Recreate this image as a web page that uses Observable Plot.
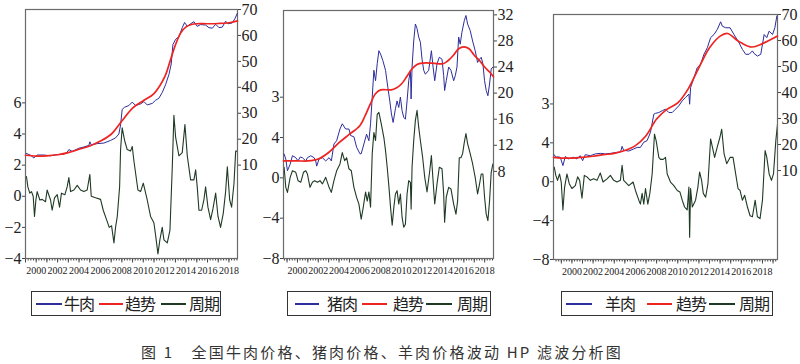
<!DOCTYPE html>
<html><head><meta charset="utf-8">
<script src="https://cdn.jsdelivr.net/npm/d3@7"></script>
<script src="https://cdn.jsdelivr.net/npm/@observablehq/plot@0.6"></script>
<style>
body{margin:0;background:#fff;}
#wrap{position:relative;width:800px;height:364px;overflow:hidden;background:#fff;}
#wrap svg text{font-family:"Liberation Serif",serif !important;}
.layer{position:absolute;top:0;}
.lg{position:absolute;top:291px;height:25px;border:1.5px solid #333;box-sizing:border-box;}
.ln{position:absolute;height:2px;top:303px;}
.lt{position:absolute;top:292px;font-family:"Noto Sans CJK SC",sans-serif;font-size:16px;line-height:22px;color:#222;letter-spacing:-1px;}
#cap{position:absolute;left:141px;top:341px;font-family:"Noto Sans CJK SC",sans-serif;font-size:15px;line-height:22px;letter-spacing:2.2px;color:#333;white-space:pre;}
</style></head>
<body><div id="wrap"></div>
<script>
// ---------- data ----------
const yearTicks = [2000,2002,2004,2006,2008,2010,2012,2014,2016,2018];

// Panel 1: beef (牛肉)
const beefPrice = [[1999.09,14.5],[1999.47,13.8],[1999.78,12.8],[2000.09,13.9],[2000.71,13.9],[2001.34,13.6],[2001.8,14.0],[2002.58,14.2],[2002.89,15.0],[2003.05,16.0],[2003.36,15.3],[2003.98,16.5],[2004.45,17.0],[2004.92,17.6],[2005.01,19.0],[2005.14,17.8],[2005.7,18.3],[2006.32,18.5],[2006.94,19.5],[2007.41,20.5],[2007.72,22],[2007.88,25.5],[2008.03,31.5],[2008.25,32.3],[2008.66,33.0],[2008.97,34.3],[2009.28,33.0],[2009.75,33.6],[2010.06,34.5],[2010.37,33.2],[2010.84,33.8],[2011.15,35],[2011.46,35.8],[2011.77,38],[2012.08,41],[2012.4,45],[2012.61,49],[2012.77,56.5],[2013.02,58.5],[2013.33,59.5],[2013.64,63],[2013.86,65],[2014.11,63.5],[2014.42,64.5],[2014.73,65.3],[2015.04,63.5],[2015.36,64.2],[2015.82,64.0],[2016.13,63.0],[2016.45,62.8],[2016.76,64.3],[2017.07,63.0],[2017.38,63.2],[2017.69,65.5],[2017.91,64.5],[2018.31,64.8],[2018.56,66.5],[2018.78,68.5]];
const beefTrend = [[1999.0,13.8],[2000,13.5],[2001,13.6],[2002,14.0],[2003,14.8],[2004,16.1],[2005,17.4],[2006,19.3],[2007,21.9],[2008,27.0],[2009,32.0],[2010,34.8],[2011,37.6],[2012,44.0],[2012.5,50.0],[2013,56.3],[2013.5,61.0],[2014,63.3],[2014.5,64.2],[2015,64.5],[2016,64.5],[2017,64.6],[2018,64.9],[2018.8,65.6]];
const beefCycle = [[1999.09,1.27],[1999.22,0.6],[1999.4,0.2],[1999.56,0.3],[1999.72,0.0],[1999.84,-1.3],[1999.97,-0.24],[2000.09,0.3],[2000.34,-0.24],[2000.56,-0.2],[2000.87,-0.35],[2001.02,0.4],[2001.34,-0.24],[2001.49,-0.9],[2001.71,-0.1],[2001.96,0.1],[2002.18,-0.7],[2002.36,0.2],[2002.68,0.1],[2002.89,0.6],[2003.05,1.2],[2003.21,0.3],[2003.52,0.4],[2003.83,0.7],[2004.14,0.4],[2004.45,0.3],[2004.76,0.4],[2005.01,1.4],[2005.14,0.0],[2005.54,-0.1],[2006.01,-0.2],[2006.26,-0.9],[2006.57,-1.5],[2006.82,-2.0],[2007.04,-1.9],[2007.26,-3.0],[2007.41,-2.0],[2007.57,-1.3],[2007.79,0.6],[2007.88,3.0],[2008.03,4.4],[2008.25,3.6],[2008.5,3.0],[2008.81,2.9],[2008.97,3.2],[2009.12,2.3],[2009.5,0.4],[2009.75,0.3],[2010.0,0.84],[2010.37,-0.24],[2010.68,-1.3],[2010.99,-1.7],[2011.15,-2.5],[2011.37,-3.7],[2011.55,-2.8],[2011.77,-2.0],[2011.93,-2.8],[2012.24,-3.0],[2012.49,-2.2],[2012.71,1.9],[2012.86,5.2],[2013.02,3.8],[2013.33,2.6],[2013.64,2.8],[2013.89,4.6],[2014.11,2.6],[2014.42,1.05],[2014.73,1.05],[2014.89,1.7],[2015.04,0.6],[2015.2,-0.9],[2015.45,-0.9],[2015.67,-0.2],[2015.82,0.6],[2016.04,-0.7],[2016.29,-1.5],[2016.51,-0.8],[2016.76,0.2],[2016.98,-1.3],[2017.22,-2.0],[2017.47,-1.1],[2017.69,0.3],[2017.85,1.9],[2018.07,-0.24],[2018.25,-0.7],[2018.47,0.8],[2018.63,2.9],[2018.78,2.9]];

// Panel 2: pork (猪肉)
const porkPrice = [[1998.72,10.66],[1998.88,9.9],[1999.04,8.1],[1999.3,9.1],[1999.52,10.4],[1999.84,10.1],[2000.06,9.6],[2000.26,10.2],[2000.48,10.1],[2000.8,9.6],[2000.96,10.1],[2001.28,10.4],[2001.6,10.1],[2001.76,9.6],[2001.85,8.8],[2002.08,9.9],[2002.4,10.1],[2002.72,9.6],[2003.04,10.1],[2003.26,9.6],[2003.51,12.2],[2003.77,12.7],[2004.09,14.5],[2004.31,15.3],[2004.63,14.5],[2004.95,14.5],[2005.11,13.5],[2005.43,13.3],[2005.69,11.7],[2006.01,10.7],[2006.13,10.7],[2006.39,12.2],[2006.65,13.7],[2006.87,12.7],[2007.03,15.3],[2007.19,19.4],[2007.35,23.5],[2007.51,21.9],[2007.67,24.5],[2007.83,26.5],[2007.99,26],[2008.21,25],[2008.47,23.5],[2008.69,20.9],[2008.88,18.8],[2009.04,16.8],[2009.2,15.5],[2009.42,17.6],[2009.58,18.8],[2009.74,17.8],[2009.9,19.4],[2010.06,17.3],[2010.22,16.3],[2010.38,16.0],[2010.54,18.8],[2010.7,21.9],[2010.86,23.5],[2010.93,19.1],[2011.02,24],[2011.18,28],[2011.34,30.6],[2011.5,29.9],[2011.66,28.6],[2011.82,27.8],[2011.98,25.2],[2012.14,23.5],[2012.3,22.9],[2012.62,23.5],[2012.88,26.5],[2013.04,24],[2013.2,21.9],[2013.42,24.5],[2013.64,25.5],[2013.9,25.2],[2014.06,22.7],[2014.15,20.4],[2014.31,21.9],[2014.54,24],[2014.76,23.5],[2015.02,21.9],[2015.18,22.7],[2015.34,24],[2015.5,28.6],[2015.65,27.5],[2015.81,29.3],[2016.04,31.1],[2016.2,31.9],[2016.36,30.6],[2016.61,29.6],[2016.84,28],[2017.09,26.5],[2017.32,24.7],[2017.51,25.2],[2017.67,25.5],[2017.83,24.5],[2017.99,21.9],[2018.15,20.4],[2018.31,19.6],[2018.47,21.4],[2018.63,23.7],[2018.79,24]];
const porkTrend = [[1998.66,9.6],[2000,9.6],[2001,9.6],[2002,9.9],[2003,10.9],[2004,12.4],[2005,13.7],[2006,15.0],[2006.5,16.5],[2007,18.3],[2007.5,19.9],[2008,20.5],[2009,20.5],[2009.5,20.8],[2010,21.4],[2010.5,22.5],[2011,23.7],[2011.5,24.4],[2012,24.6],[2013,24.6],[2014,24.5],[2014.5,25.0],[2015,25.8],[2015.5,26.8],[2016,27.1],[2016.5,26.8],[2017,25.8],[2017.5,25.0],[2018,24.0],[2018.5,23.2],[2018.85,22.5]];
const porkCycle = [[1998.72,1.05],[1998.88,-0.94],[1999.04,-1.44],[1999.3,0.05],[1999.52,0.7],[1999.84,0.55],[2000.06,-0.28],[2000.32,-0.44],[2000.58,0.55],[2000.8,0.7],[2000.96,0.38],[2001.21,-0.94],[2001.44,-0.44],[2001.66,-0.28],[2001.92,-0.44],[2002.17,-0.28],[2002.4,-0.6],[2002.72,0.05],[2003.04,-0.94],[2003.26,-1.44],[2003.51,-0.28],[2003.77,0.7],[2004.09,1.38],[2004.31,2.5],[2004.54,1.7],[2004.73,2.0],[2004.95,0.9],[2005.18,0.7],[2005.43,-0.94],[2005.69,-1.93],[2005.91,-2.6],[2006.13,-4.1],[2006.33,-2.9],[2006.55,-1.4],[2006.71,-2.3],[2006.87,-1.4],[2007.03,-2.9],[2007.19,2.4],[2007.35,4.5],[2007.51,3.7],[2007.67,6.3],[2007.83,6.5],[2008.05,5.4],[2008.31,4.0],[2008.47,2.7],[2008.63,1.05],[2008.79,-0.8],[2008.95,-2.9],[2009.11,-4.7],[2009.27,-2.9],[2009.42,-1.6],[2009.58,-1.27],[2009.74,-2.6],[2009.9,-1.6],[2010.06,-3.9],[2010.22,-4.9],[2010.38,-4.6],[2010.54,-1.6],[2010.7,-0.28],[2010.86,-0.44],[2010.93,-3.1],[2011.02,1.05],[2011.18,3.7],[2011.34,5.7],[2011.5,6.7],[2011.66,5.0],[2011.82,3.7],[2012.04,2.0],[2012.24,0.05],[2012.46,-1.4],[2012.72,0.7],[2012.88,2.2],[2013.04,-0.28],[2013.2,-2.6],[2013.42,-0.6],[2013.64,1.05],[2013.9,0.9],[2014.06,-1.6],[2014.15,-4.4],[2014.31,-1.9],[2014.54,-0.94],[2014.76,-1.1],[2015.02,-2.6],[2015.24,-3.6],[2015.4,-2.3],[2015.56,2.0],[2015.72,2.0],[2015.88,2.4],[2016.04,3.5],[2016.2,4.4],[2016.36,3.4],[2016.61,2.4],[2016.84,1.4],[2017.09,0.05],[2017.32,-1.6],[2017.51,-0.6],[2017.67,0.38],[2017.83,0.38],[2017.99,-1.9],[2018.15,-3.6],[2018.31,-4.25],[2018.47,-2.3],[2018.63,0.55],[2018.79,1.38]];

// Panel 3: mutton (羊肉)
const muttonPrice = [[1998.33,16.1],[1998.48,15.1],[1998.64,15.3],[1998.9,15.1],[1999.15,11.9],[1999.37,15.4],[1999.68,14.5],[2000.16,15.1],[2000.47,14.5],[2000.79,15.7],[2001.01,13.8],[2001.26,16.1],[2001.74,15.7],[2002.21,16.4],[2002.68,16.6],[2003.16,16.4],[2003.63,16.6],[2004.26,17.0],[2004.6,17.2],[2004.74,19.3],[2004.89,17.8],[2005.37,17.5],[2005.84,18.3],[2006.16,18.9],[2006.47,18.9],[2006.79,20.9],[2007.1,21.5],[2007.42,24.7],[2007.74,31.7],[2007.89,32],[2008.21,32.3],[2008.53,33.0],[2008.84,33.6],[2009.16,32.3],[2009.47,32.3],[2009.79,33.6],[2010.1,34.9],[2010.42,36.8],[2010.74,38.1],[2011.05,39.4],[2011.12,35.5],[2011.21,41.9],[2011.53,45.7],[2011.84,49.6],[2012.16,50.9],[2012.47,54.7],[2012.79,57.2],[2013.1,61.1],[2013.42,62.3],[2013.74,64.3],[2014.05,67.2],[2014.21,65.5],[2014.53,64.9],[2014.94,64.9],[2015.31,62.3],[2015.79,59.1],[2016.1,56.6],[2016.42,54.7],[2016.74,54.7],[2017.05,56],[2017.21,55],[2017.52,54],[2017.84,54.7],[2018.16,62.3],[2018.41,61.1],[2018.63,63.6],[2018.95,62.3],[2019.17,64.9],[2019.36,69.4]];
const muttonTrend = [[1998.26,15.1],[1999,14.8],[2000,14.8],[2001,15.1],[2002,15.5],[2003,16.1],[2004,16.6],[2005,17.7],[2006,19.6],[2007,23.4],[2008,29.8],[2009,33.6],[2010,36.0],[2011,41.5],[2012,49.6],[2013,57.2],[2014,61.7],[2014.7,62.7],[2015.5,60.4],[2016,59.1],[2017,57.5],[2018,58.8],[2019.42,61.7]];
const muttonCycle = [[1998.33,1.5],[1998.48,0.65],[1998.64,0.14],[1998.83,0.8],[1998.99,-0.03],[1999.15,-2.9],[1999.31,-0.55],[1999.53,0.8],[1999.75,-0.2],[2000.0,-0.7],[2000.32,-0.4],[2000.54,0.5],[2000.73,0.14],[2000.95,-1.7],[2001.17,0.65],[2001.42,0.5],[2001.74,0.14],[2002.05,0.3],[2002.37,0.14],[2002.68,0.9],[2002.94,-0.03],[2003.32,0.3],[2003.63,0.65],[2003.95,0.14],[2004.26,-0.03],[2004.58,0.14],[2004.74,1.7],[2004.89,0.14],[2005.37,-0.4],[2005.78,-0.03],[2006.0,-0.9],[2006.32,-1.9],[2006.47,-2.3],[2006.63,-1.2],[2006.79,-2.3],[2006.95,-0.7],[2007.17,-2.3],[2007.36,-1.2],[2007.58,0.8],[2007.8,4.9],[2007.96,4.2],[2008.21,2.5],[2008.37,2.3],[2008.62,2.3],[2008.84,2.5],[2009.0,0.8],[2009.31,-0.03],[2009.63,-0.4],[2009.95,-0.9],[2010.2,-1.05],[2010.42,-1.9],[2010.64,-2.6],[2010.89,-2.9],[2011.05,-0.55],[2011.12,-5.7],[2011.21,-0.7],[2011.37,-2.6],[2011.68,-1.9],[2011.9,-0.55],[2012.06,1.0],[2012.25,0.14],[2012.41,-1.2],[2012.63,-1.6],[2012.85,-0.2],[2013.1,4.4],[2013.26,3.6],[2013.48,2.5],[2013.74,3.6],[2013.99,4.6],[2014.15,5.4],[2014.37,2.9],[2014.62,1.85],[2014.94,2.5],[2015.22,2.5],[2015.47,0.8],[2015.69,-0.7],[2015.88,-0.9],[2016.1,-1.9],[2016.32,-1.4],[2016.58,-2.6],[2016.83,-3.5],[2017.05,-3.6],[2017.31,-1.9],[2017.52,-3.6],[2017.77,-3.8],[2018.0,-1.9],[2018.25,3.2],[2018.41,2.5],[2018.63,0.8],[2018.85,0.14],[2019.04,0.8],[2019.26,4.2],[2019.42,5.9]];

// axis ticks / labels
const beefLeftTicks = [-4,-2,0,2,4,6];
const beefLeftLabels = ["\u22124","\u22122","0","2","4","6"];
const beefRightTicks = [10,20,30,40,50,60,70];
const porkLeftTicks = [-8,-4,0,4,8];
const porkLeftLabels = ["\u22128","\u22124","0","4","3"];
const porkRightTicks = [8,12,16,20,24,28,32];
const muttonLeftTicks = [-8,-4,0,4,8];
const muttonLeftLabels = ["\u22128","\u22124","0","4","3"];
const muttonRightTicks = [10,20,30,40,50,60,70];

const legendNames = [["牛肉","趋势","周期"],["猪肉","趋势","周期"],["羊肉","趋势","周期"]];
const caption = "图 1　全国牛肉价格、猪肉价格、羊肉价格波动 HP 滤波分析图";

const C_BLUE = "#2d2d9c", C_RED = "#ee2420", C_GREEN = "#1f3a24";

// ---------- panels ----------
const panels = [
  {left:0, width:265, height:290, mL:25, mR:28, mT:9, mB:32, x:[1999.0,2018.8], yL:[-4,12], yR:[-26,70],
   price:beefPrice, trend:beefTrend, cycle:beefCycle, lt:beefLeftTicks, ll:beefLeftLabels, rt:beefRightTicks},
  {left:262, width:268, height:290, mL:21, mR:37, mT:10, mB:32, x:[1998.66,2018.85], yL:[-8,16.6], yR:[-5.36,32.67],
   price:porkPrice, trend:porkTrend, cycle:porkCycle, lt:porkLeftTicks, ll:porkLeftLabels, rt:porkRightTicks},
  {left:530, width:270, height:290, mL:23, mR:23, mT:14, mB:31, x:[1998.26,2019.42], yL:[-8,17.2], yR:[-24.2,70],
   price:muttonPrice, trend:muttonTrend, cycle:muttonCycle, lt:muttonLeftTicks, ll:muttonLeftLabels, rt:muttonRightTicks}
];

const wrap = document.getElementById("wrap");
const baseStyle = {fontFamily:"Liberation Serif, serif", fontSize:"16px", color:"#222", background:"transparent", overflow:"visible"};

for (const p of panels) {
  const quarters = d3.range(Math.ceil(p.x[0]*4)/4, p.x[1], 0.25);
  const years = d3.range(Math.ceil(p.x[0]), p.x[1]);
  const common = {width:p.width, height:p.height, marginLeft:p.mL, marginRight:p.mR, marginTop:p.mT, marginBottom:p.mB, style:baseStyle};
  const base = Plot.plot({
    ...common,
    x:{domain:p.x},
    y:{domain:p.yL},
    marks:[
      Plot.axisX({ticks:quarters, tickSize:2.5, tickFormat:() => "", stroke:"#444", label:null}),
      Plot.axisX({ticks:years, tickSize:4.5, tickFormat:() => "", stroke:"#444", label:null}),
      Plot.axisX({ticks:yearTicks, tickSize:0, tickPadding:8, tickFormat:d => String(d), fontSize:10, letterSpacing:"-0.7px", label:null}),
      Plot.axisY({anchor:"left", ticks:p.lt, tickSize:3, tickPadding:1, tickFormat:(d,i) => p.ll[p.lt.indexOf(d)], label:null, stroke:"#444"}),
      Plot.lineY(p.cycle, {x:d => d[0], y:d => d[1], stroke:C_GREEN, strokeWidth:1.1}),
      Plot.frame({stroke:"#6a6a6a", strokeWidth:1.2})
    ]
  });
  const over = Plot.plot({
    ...common,
    x:{domain:p.x, axis:null},
    y:{domain:p.yR},
    marks:[
      Plot.axisY({anchor:"right", ticks:p.rt, tickSize:3, tickPadding:1, tickFormat:d => String(d), label:null, stroke:"#444"}),
      Plot.lineY(p.price, {x:d => d[0], y:d => d[1], stroke:C_BLUE, strokeWidth:1}),
      Plot.lineY(p.trend, {x:d => d[0], y:d => d[1], stroke:C_RED, strokeWidth:1.7, curve:"catmull-rom"})
    ]
  });
  for (const svg of [base, over]) {
    svg.classList.add("layer");
    svg.style.left = p.left + "px";
    wrap.appendChild(svg);
  }
}

// ---------- legends ----------
const legendBoxes = [[31,190],[287,204],[561,212]];
const legendItems = [
  [[36,62,64],[99,123,125],[161,186,189]],
  [[295,319,327],[362,387,393],[426,452,457]],
  [[566,592,605],[647,672,676],[709,735,739]]
];
const lineColors = [C_BLUE, C_RED, C_GREEN];
legendBoxes.forEach(([l,w],k) => {
  const b = document.createElement("div"); b.className = "lg";
  b.style.left = l + "px"; b.style.width = w + "px"; wrap.appendChild(b);
  legendItems[k].forEach(([a,e,t],j) => {
    const ln = document.createElement("div"); ln.className = "ln";
    ln.style.left = a + "px"; ln.style.width = (e - a) + "px"; ln.style.background = lineColors[j];
    wrap.appendChild(ln);
    const tx = document.createElement("div"); tx.className = "lt";
    tx.style.left = t + "px"; tx.textContent = legendNames[k][j];
    wrap.appendChild(tx);
  });
});

const cap = document.createElement("div"); cap.id = "cap"; cap.textContent = caption;
wrap.appendChild(cap);
</script>
</body></html>
